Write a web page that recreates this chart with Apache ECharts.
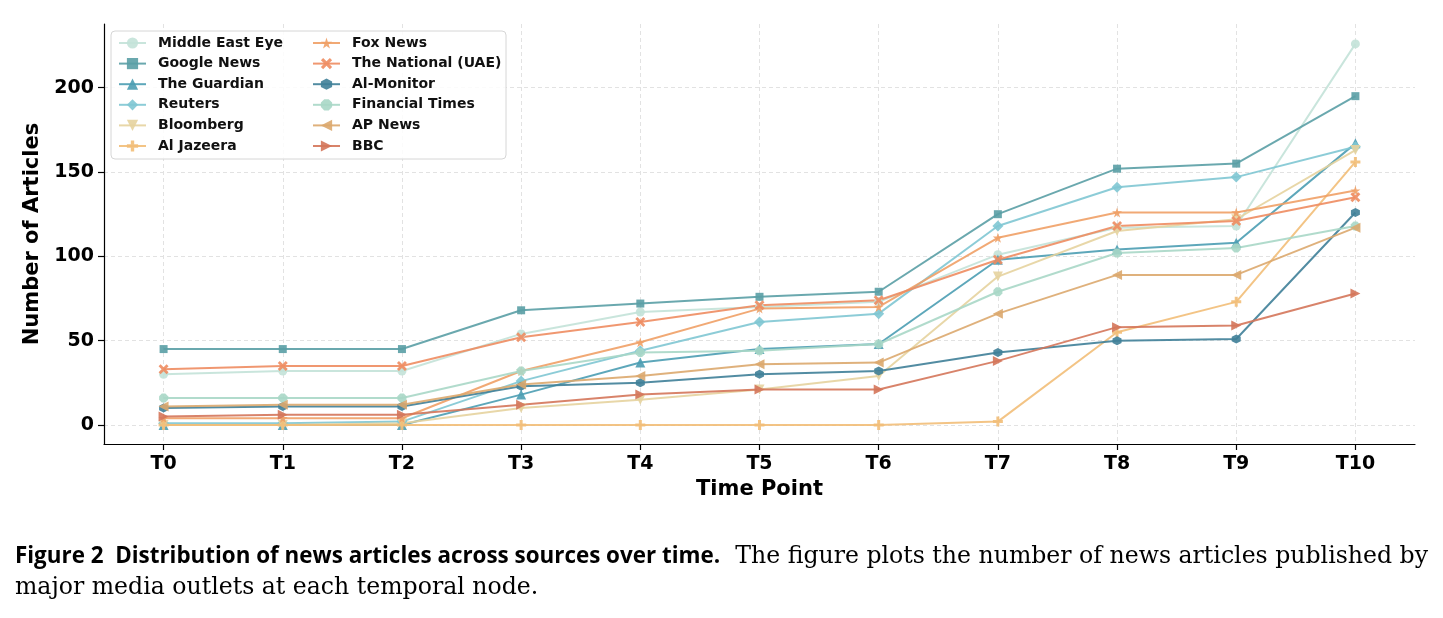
<!DOCTYPE html>
<html>
<head>
<meta charset="utf-8">
<script src="https://cdn.jsdelivr.net/npm/echarts@6/dist/echarts.min.js"></script>
<style>
  html, body { margin: 0; padding: 0; background: #fff; }
  #chart { width: 1443px; height: 618px; }
</style>
</head>
<body>
<div id="chart"></div>
<script>
const categories = ['T0', 'T1', 'T2', 'T3', 'T4', 'T5', 'T6', 'T7', 'T8', 'T9', 'T10'];
const yTicks = [0, 50, 100, 150, 200];

const middleEastEye = [30, 32, 32, 54, 67, 70, 73, 101, 117, 118, 226];
const googleNews = [45, 45, 45, 68, 72, 76, 79, 125, 152, 155, 195];
const theGuardian = [0, 0, 0, 18, 37, 45, 48, 98, 104, 108, 167];
const reuters = [1, 1, 2, 26, 44, 61, 66, 118, 141, 147, 165];
const bloomberg = [0, 0, 1, 10, 15, 21, 29, 88, 115, 122, 163];
const alJazeera = [0, 0, 0, 0, 0, 0, 0, 2, 55, 73, 156];
const foxNews = [4, 4, 4, 32, 49, 69, 70, 111, 126, 126, 139];
const theNational = [33, 35, 35, 52, 61, 71, 74, 98, 118, 121, 135];
const alMonitor = [10, 11, 11, 23, 25, 30, 32, 43, 50, 51, 126];
const financialTimes = [16, 16, 16, 32, 43, 44, 48, 79, 102, 105, 118];
const apNews = [11, 12, 12, 24, 29, 36, 37, 66, 89, 89, 117];
const bbc = [5, 6, 6, 12, 18, 21, 21, 38, 58, 59, 78];

// marker shapes (matplotlib-like)
const SYM = {
  circle: 'circle',
  square: 'rect',
  triUp: 'path://M5,0L10,10L0,10Z',
  diamond: 'path://M5,0L10,5L5,10L0,5Z',
  triDown: 'path://M0,0L10,0L5,10Z',
  plus: 'path://M3.5,0H6.5V3.5H10V6.5H6.5V10H3.5V6.5H0V3.5H3.5Z',
  star: 'path://M5,0L6.12,3.45L9.76,3.45L6.82,5.59L7.94,9.05L5,6.91L2.06,9.05L3.18,5.59L0.24,3.45L3.88,3.45Z',
  cross: 'path://M2,0L5,3L8,0L10,2L7,5L10,8L8,10L5,7L2,10L0,8L3,5L0,2Z',
  hexagon: 'path://M5,0L9.33,2.5L9.33,7.5L5,10L0.67,7.5L0.67,2.5Z',
  octagon: 'path://M3,0H7L10,3V7L7,10H3L0,7V3Z',
  triLeft: 'path://M10,0L10,10L0,5Z',
  triRight: 'path://M0,0L10,5L0,10Z'
};

const sources = [
  {name: 'Middle East Eye', data: middleEastEye, color: '#c3e2d8', symbol: SYM.circle, size: 9},
  {name: 'Google News', data: googleNews, color: '#5a9fa5', symbol: SYM.square, size: 8},
  {name: 'The Guardian', data: theGuardian, color: '#4b9db3', symbol: SYM.triUp, size: 10},
  {name: 'Reuters', data: reuters, color: '#80c6d3', symbol: SYM.diamond, size: 11},
  {name: 'Bloomberg', data: bloomberg, color: '#e6d39e', symbol: SYM.triDown, size: 10},
  {name: 'Al Jazeera', data: alJazeera, color: '#f2be78', symbol: SYM.plus, size: 10},
  {name: 'Fox News', data: foxNews, color: '#efa066', symbol: SYM.star, size: 10},
  {name: 'The National (UAE)', data: theNational, color: '#ee8c60', symbol: SYM.cross, size: 10},
  {name: 'Al-Monitor', data: alMonitor, color: '#3f8098', symbol: SYM.hexagon, size: 9},
  {name: 'Financial Times', data: financialTimes, color: '#a9d7c6', symbol: SYM.octagon, size: 9},
  {name: 'AP News', data: apNews, color: '#dba96e', symbol: SYM.triLeft, size: 10},
  {name: 'BBC', data: bbc, color: '#d4765a', symbol: SYM.triRight, size: 10}
];

const chart = echarts.init(document.getElementById('chart'));

const legendCommon = {
  orient: 'vertical',
  top: 36,
  padding: 0,
  itemWidth: 27,
  itemHeight: 14,
  itemGap: 6.6,
  z: 5,
  textStyle: {
    fontFamily: 'DejaVu Sans',
    fontWeight: 'bold',
    fontSize: 14,
    color: '#111',
    lineHeight: 14,
    padding: [0, 0, 0, 7]
  }
};

const axisFont = {fontFamily: 'DejaVu Sans', fontWeight: 'bold', color: '#000'};
const gridLine = {show: true, lineStyle: {color: '#e2e2e2', type: [4, 3], width: 1}};

chart.setOption({
  animation: false,
  backgroundColor: '#fff',
  grid: {left: 104, right: 28, top: 24, bottom: 174},
  legend: [
    Object.assign({left: 118, data: sources.slice(0, 6).map(s => s.name)}, legendCommon),
    Object.assign({left: 312, data: sources.slice(6).map(s => s.name)}, legendCommon)
  ],
  xAxis: {
    type: 'value',
    min: -0.5,
    max: 10.5,
    name: 'Time Point',
    nameLocation: 'middle',
    nameGap: 34,
    nameTextStyle: Object.assign({fontSize: 21}, axisFont),
    axisLine: {show: true, onZero: false, lineStyle: {color: '#000', width: 1.2}},
    axisTick: {show: true, length: 6, lineStyle: {color: '#000', width: 1.2}, customValues: categories.map((c, i) => i)},
    axisLabel: Object.assign({
      customValues: categories.map((c, i) => i),
      formatter: v => categories[v],
      margin: 11,
      fontSize: 19
    }, axisFont),
    splitLine: gridLine
  },
  yAxis: {
    type: 'value',
    min: -11.3,
    max: 237.8,
    name: 'Number of Articles',
    nameLocation: 'middle',
    nameGap: 56,
    nameTextStyle: Object.assign({fontSize: 21}, axisFont),
    axisLine: {show: true, onZero: false, lineStyle: {color: '#000', width: 1.2}},
    axisTick: {show: true, length: 6, lineStyle: {color: '#000', width: 1.2}, customValues: yTicks},
    axisLabel: Object.assign({customValues: yTicks, margin: 10, fontSize: 19}, axisFont),
    splitLine: gridLine
  },
  graphic: [
    {
      type: 'rect', z: 4,
      shape: {x: 111, y: 31, width: 395, height: 128, r: 4},
      style: {fill: 'rgba(255,255,255,0.85)', stroke: '#d6d6d6', lineWidth: 1}
    },
    {
      type: 'text', x: 15, y: 557,
      style: {
        text: 'Figure 2  Distribution of news articles across sources over time.',
        fontFamily: 'Open Sans', fontWeight: 'bold', fontSize: 22.4, fill: '#000',
        verticalAlign: 'middle'
      }
    },
    {
      type: 'text', x: 1428, y: 557,
      style: {
        text: 'The figure plots the number of news articles published by',
        fontFamily: 'DejaVu Serif', fontSize: 23.6, fill: '#000',
        align: 'right', verticalAlign: 'middle'
      }
    },
    {
      type: 'text', x: 15, y: 588,
      style: {
        text: 'major media outlets at each temporal node.',
        fontFamily: 'DejaVu Serif', fontSize: 23.6, fill: '#000',
        verticalAlign: 'middle'
      }
    }
  ],
  series: sources.map(s => ({
    name: s.name,
    type: 'line',
    data: s.data.map((v, i) => [i, v]),
    symbol: s.symbol,
    symbolSize: s.size,
    showAllSymbol: true,
    lineStyle: {width: 2, color: s.color, opacity: 0.9},
    itemStyle: {color: s.color, opacity: 0.9},
    emphasis: {disabled: true}
  }))
});
</script>
</body>
</html>
